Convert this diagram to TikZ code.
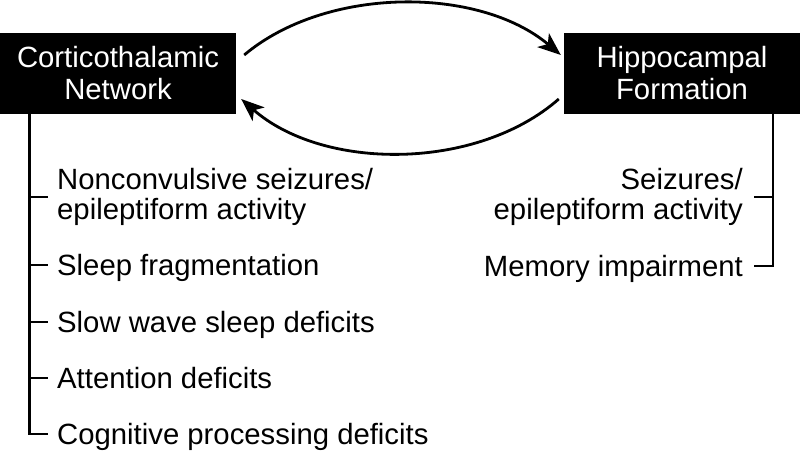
\documentclass[tikz,border=0pt]{standalone}
\usepackage{fontspec}
\setmainfont{Liberation Sans}
\usetikzlibrary{arrows.meta}
\begin{document}
\begin{tikzpicture}[x=1pt,y=1pt,
  hub/.style={fill=black, text=white, inner sep=0pt, minimum width=236pt, minimum height=81pt,
    align=center, font=\fontsize{29.3pt}{32pt}\selectfont},
  itemL/.style={anchor=west, inner xsep=9pt, inner ysep=0pt, align=left,
    font=\fontsize{29.3pt}{30pt}\selectfont},
  itemR/.style={anchor=east, inner xsep=11pt, inner ysep=0pt, align=right,
    font=\fontsize{29.3pt}{30pt}\selectfont},
  one/.style={text height=20.8pt, text depth=0pt},
  arr/.style={line width=2.8pt, -{Stealth[length=23pt, width=18pt, inset=6pt]}},
  br/.style={line width=2.3pt}]
\useasboundingbox (0,0) rectangle (800,452);
\node[hub] (ct) at (118,378.5) {Corticothalamic\\Network};
\node[hub] (hf) at (682,378.5) {Hippocampal\\Formation};
% arcs
\draw[arr] ([shift={(8,18.5)}]ct.east) .. controls +(82,69) and +(-82,69) .. ([shift={(-3,18.5)}]hf.west);
\draw[arr] ([shift={(-5,-25.5)}]hf.west) .. controls +(-82,-72) and +(82,-72) .. ([shift={(5,-25.5)}]ct.east);
% left list
\coordinate (lx) at (29.5,0);
\node[itemL] (l1) at (48,255) {Nonconvulsive seizures/\\epileptiform activity};
\node[itemL,one] (l2) at (48,187) {Sleep fragmentation};
\node[itemL,one] (l3) at (48,130) {Slow wave sleep deficits};
\node[itemL,one] (l4) at (48,74) {Attention deficits};
\node[itemL,one] (l5) at (48,18) {Cognitive processing deficits};
\draw[br] (ct.south -| lx) |- (l5.west);
\foreach \n in {l1,l2,l3,l4} \draw[br] (lx |- \n.west) -- (\n.west);
% right list
\coordinate (rx) at (773,0);
\node[itemR] (r1) at (754,255) {Seizures/\\epileptiform activity};
\node[itemR,one] (r2) at (754,186) {Memory impairment};
\draw[br] (hf.south -| rx) |- (r2.east);
\draw[br] (rx |- r1.east) -- (r1.east);
\end{tikzpicture}
\end{document}
